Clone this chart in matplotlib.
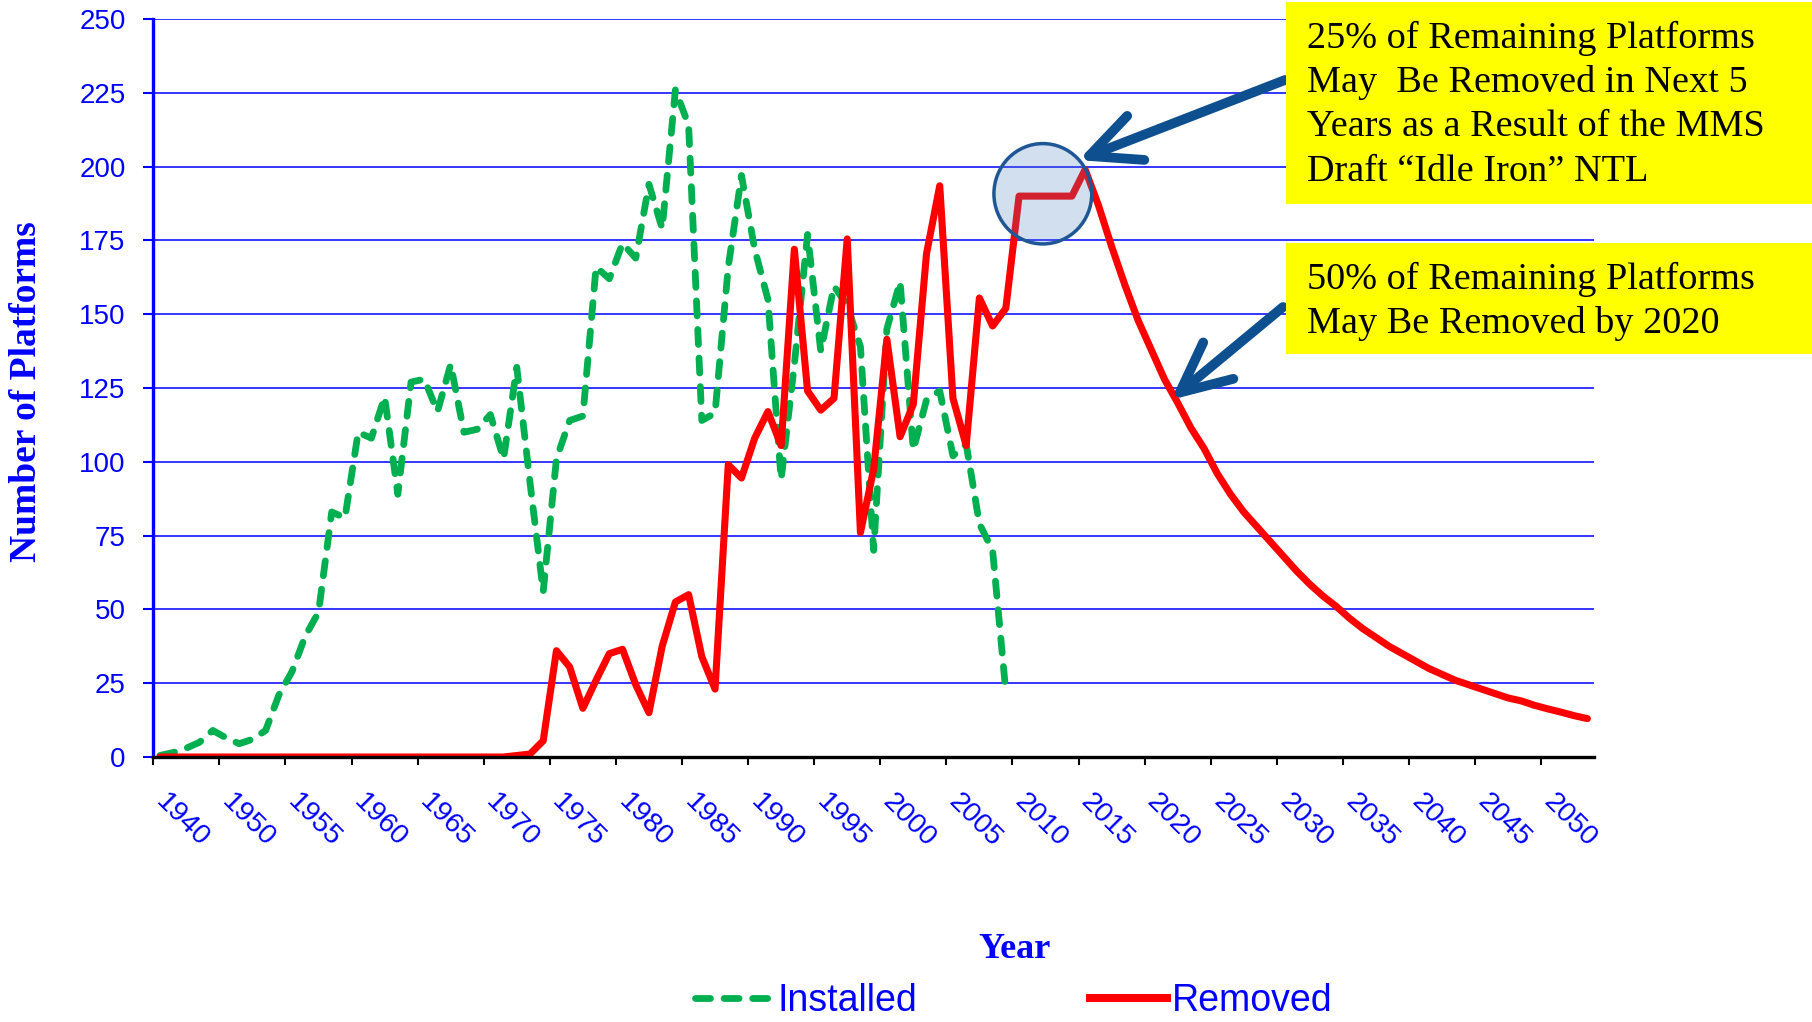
import numpy as np
import matplotlib
matplotlib.use("Agg")
import matplotlib.pyplot as plt
import matplotlib.transforms as mtransforms
from matplotlib.lines import Line2D
from matplotlib.patches import Ellipse, Rectangle

# labels shown under every 5th category
year_labels = ['1940', '1950', '1955', '1960', '1965', '1970', '1975', '1980',
               '1985', '1990', '1995', '2000', '2005', '2010', '2015', '2020',
               '2025', '2030', '2035', '2040', '2045', '2050']

# platforms installed per year (ends 2009)
installed = [0.5, 1.5, 3, 5, 9, 6.5, 4.5, 6, 9, 21,
             29, 41, 49, 83, 81, 110, 108, 122, 89, 127,
             128, 117, 133, 110, 111, 116, 101, 132, 93, 56,
             101, 114, 115.5, 166, 162, 174, 169, 194, 179, 226,
             214, 114, 116.5, 166, 197, 172, 155, 94, 133, 177,
             137.5, 159.5, 153, 139, 70, 145, 161, 104, 121, 124,
             102, 106, 79, 70, 22]

# platforms removed per year (actual + projection)
removed = [0, 0, 0, 0, 0, 0, 0, 0, 0, 0,
           0, 0, 0, 0, 0, 0, 0, 0, 0, 0,
           0, 0, 0, 0, 0, 0, 0, 0.5, 1, 5.5,
           36, 30.5, 16.5, 26, 35, 36.5, 24.5, 15, 37.5, 52.5,
           55, 34, 23, 99, 94.5, 108, 117, 105.5, 172, 124,
           117.5, 121.5, 175.5, 76, 97.5, 141.5, 108.5, 119.5, 170.5, 193.5,
           121.5, 105.5, 155.5, 146, 152, 190, 190, 190, 190, 190,
           199, 187, 173, 160, 148, 138, 128, 120, 111.5, 104.5,
           96, 89, 83, 78, 73, 68, 63, 58.5, 54.5, 51,
           47, 43.5, 40.5, 37.5, 35, 32.5, 30, 28, 26, 24.5,
           23, 21.5, 20, 19, 17.5, 16.3, 15.2, 14, 13]

box1_lines = ["25% of Remaining Platforms", "May  Be Removed in Next 5",
              "Years as a Result of the MMS", "Draft \u201cIdle Iron\u201d NTL"]
box2_lines = ["50% of Remaining Platforms", "May Be Removed by 2020"]

BLUE = '#0000FF'
GREEN = '#00B050'
RED = '#FF0000'
ARROW = '#0D4F8F'

plt.rcParams['font.family'] = 'Liberation Sans'

W, H = 1812, 1022
fig = plt.figure(figsize=(W / 100, H / 100), dpi=100)
ax = fig.add_axes([153.3 / W, 1 - 757 / H, (1594 - 153.3) / W, (757 - 19) / H])

x_ins = np.arange(len(installed))
x_rem = np.arange(len(removed))
ax.plot(x_ins, installed, color=GREEN, lw=4.9, linestyle=(0, (2.2, 2.0)),
        dash_capstyle='round', dash_joinstyle='round', zorder=3)
ax.plot(x_rem, removed, color=RED, lw=5.1, solid_joinstyle='round',
        solid_capstyle='round', zorder=4)

ax.set_xlim(-0.5, len(removed) - 0.5)
ax.set_ylim(0, 250)
ax.set_yticks(np.arange(0, 251, 25))
ax.yaxis.grid(True, color=BLUE, lw=1.1)
ax.set_axisbelow(True)

# tick marks between categories, labels on categories
ax.set_xticks(np.arange(-0.5, len(removed) - 4, 5))
ax.set_xticklabels([])
ax.set_xticks(np.arange(0, 5 * len(year_labels), 5), year_labels, minor=True)
ax.tick_params(axis='x', which='major', length=6, width=1.5, color='black')
ax.tick_params(axis='x', which='minor', length=0, pad=23, labelsize=20.5,
               labelcolor=BLUE)
shift = mtransforms.ScaledTranslation(0.09, 0, fig.dpi_scale_trans)
for lab in ax.get_xticklabels(minor=True):
    lab.set_rotation(-45)
    lab.set_ha('left')
    lab.set_va('top')
    lab.set_rotation_mode('anchor')
    lab.set_transform(lab.get_transform() + shift)
ax.tick_params(axis='y', length=7, width=1.5, color=BLUE, labelcolor=BLUE,
               labelsize=20, pad=13)

for s in ['top', 'right']:
    ax.spines[s].set_visible(False)
ax.spines['left'].set_color(BLUE)
ax.spines['left'].set_linewidth(2.4)
ax.spines['bottom'].set_color('black')
ax.spines['bottom'].set_linewidth(2.4)
ax.spines['bottom'].set_zorder(5)

# highlight circle on the 2010-2015 plateau
ax.add_patch(Ellipse((66.8, 190.8), width=7.4, height=34,
                     facecolor=(79 / 255, 129 / 255, 189 / 255, 0.25),
                     edgecolor='#1F5796', lw=2.5, zorder=6))

fig.text(27 / W, 1 - 392 / H, 'Number of Platforms', rotation=90,
         ha='center', va='center', fontsize=27, fontweight='bold',
         family='Liberation Serif', color=BLUE)
fig.text(1015 / W, 1 - 958 / H, 'Year', ha='center', va='baseline',
         fontsize=26, fontweight='bold', family='Liberation Serif', color=BLUE)

# yellow call-out boxes
fig.add_artist(Rectangle((1286 / W, 1 - 204 / H), (W - 1286) / W, 202 / H,
                         transform=fig.transFigure, facecolor='#FFFF00',
                         edgecolor='none', zorder=7))
fig.add_artist(Rectangle((1286 / W, 1 - 354 / H), (W - 1286) / W, 110.5 / H,
                         transform=fig.transFigure, facecolor='#FFFF00',
                         edgecolor='none', zorder=7))
for line, base in zip(box1_lines, [47.5, 92.5, 136, 181]):
    fig.text(1307 / W, 1 - base / H, line, ha='left', va='baseline',
             fontsize=27.5, family='Liberation Serif', color='black', zorder=8)
for line, base in zip(box2_lines, [289, 332.5]):
    fig.text(1307 / W, 1 - base / H, line, ha='left', va='baseline',
             fontsize=27.5, family='Liberation Serif', color='black', zorder=8)

arrow_style = dict(arrowstyle='->,head_length=3.6,head_width=1.7', lw=7,
                   color=ARROW, shrinkA=0, shrinkB=0, mutation_scale=10,
                   capstyle='round', joinstyle='round')
ax.annotate('', xy=(69.5, 202.2), xycoords='data', xytext=(1285, H - 80),
            textcoords='figure pixels', arrowprops=arrow_style,
            annotation_clip=False, zorder=9)
ax.annotate('', xy=(76.5, 121), xycoords='data', xytext=(1283, H - 307),
            textcoords='figure pixels', arrowprops=arrow_style,
            annotation_clip=False, zorder=9)

handles = [Line2D([], [], color=GREEN, lw=4.9, linestyle=(0, (2.2, 2.0)),
                  dash_capstyle='round'),
           Line2D([], [], color=RED, lw=5.8)]
fig.legend(handles, ['Installed', 'Removed'], loc='center',
           bbox_to_anchor=(1014 / W, 1 - 1001 / H), ncol=2, frameon=False,
           fontsize=27, handlelength=2.05, handletextpad=0.15,
           columnspacing=4.6, labelcolor=BLUE)

fig.savefig('out.png', dpi=100)
